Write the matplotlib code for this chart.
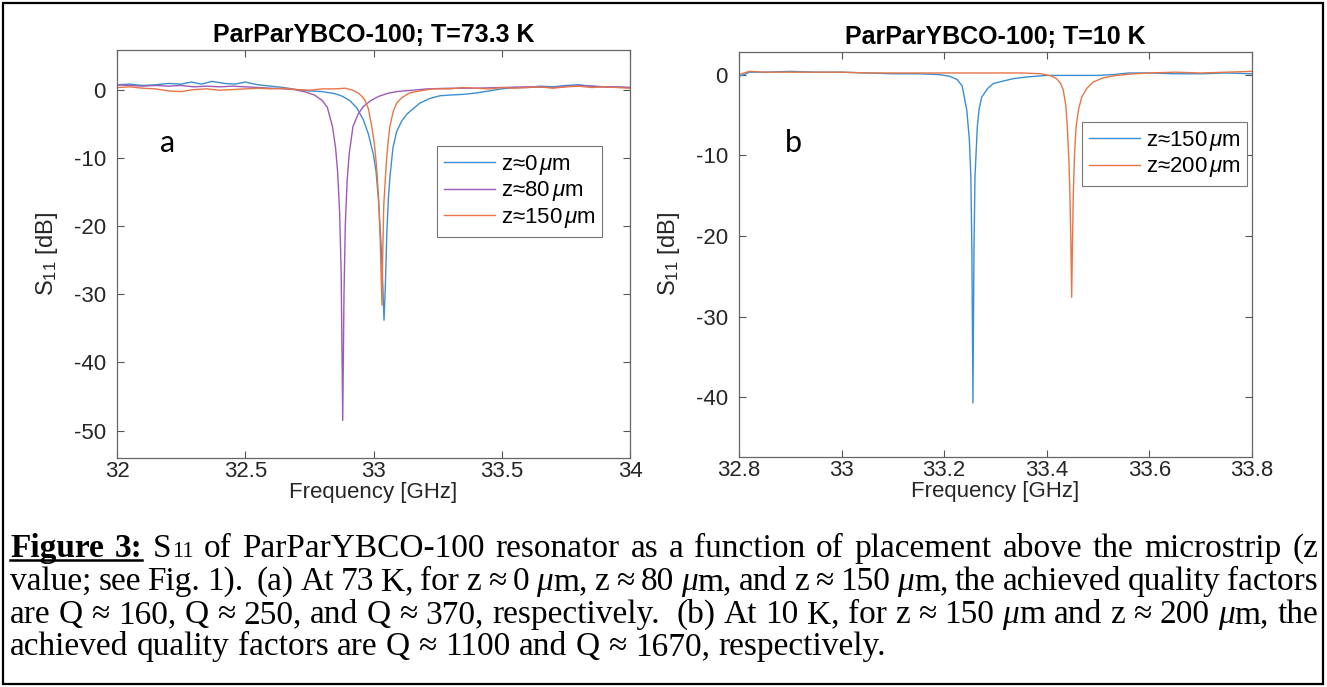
import matplotlib
matplotlib.use("Agg")
import matplotlib.pyplot as plt
from matplotlib.lines import Line2D
from matplotlib.patches import Rectangle

plt.rcParams['font.family'] = ['Liberation Sans', 'DejaVu Sans']
plt.rcParams['mathtext.fontset'] = 'custom'
plt.rcParams['mathtext.rm'] = 'Liberation Sans'
plt.rcParams['mathtext.it'] = 'Liberation Sans:italic'
plt.rcParams['mathtext.bf'] = 'Liberation Sans:bold'
plt.rcParams['axes.unicode_minus'] = False

# %% Data.
# (a) T = 73.3 K
freq_a0 = [32.00, 32.05, 32.10, 32.15, 32.20, 32.25, 32.29, 32.33, 32.37, 32.42,
           32.46, 32.50, 32.55, 32.60, 32.65, 32.70, 32.75, 32.80, 32.85, 32.88,
           32.91, 32.935, 32.96, 32.98, 33.00, 33.01, 33.02, 33.03, 33.036, 33.041,
           33.046, 33.052, 33.058, 33.064, 33.076, 33.09, 33.11, 33.13, 33.155, 33.18,
           33.22, 33.26, 33.30, 33.35, 33.40, 33.45, 33.50, 33.55, 33.60, 33.65,
           33.70, 33.75, 33.80, 33.85, 33.90, 33.95, 34.00]
s11_a0 = [0.7, 0.8, 0.6, 0.7, 0.9, 0.8, 1.1, 0.8, 1.2, 0.9,
          0.8, 1.1, 0.7, 0.5, 0.3, 0.0, -0.2, -0.3, -0.6, -1.0,
          -1.7, -2.7, -4.4, -6.5, -9.6, -12.0, -16.5, -23.0, -28.5, -33.8,
          -29.0, -21.0, -16.0, -12.8, -8.5, -6.2, -4.6, -3.6, -2.8, -2.0,
          -1.3, -0.9, -0.8, -0.7, -0.5, -0.2, 0.1, 0.3, 0.3, 0.5,
          0.4, 0.6, 0.7, 0.5, 0.4, 0.4, 0.3]

freq_a80 = [32.00, 32.05, 32.10, 32.15, 32.20, 32.25, 32.30, 32.35, 32.40, 32.45,
            32.50, 32.55, 32.60, 32.65, 32.69, 32.73, 32.77, 32.80, 32.82, 32.84,
            32.852, 32.860, 32.868, 32.874, 32.880, 32.885, 32.890, 32.897, 32.905, 32.92,
            32.94, 32.96, 32.99, 33.02, 33.06, 33.10, 33.15, 33.21, 33.30, 33.40,
            33.50, 33.60, 33.70, 33.80, 33.90, 34.00]
s11_a80 = [0.7, 0.6, 0.5, 0.6, 0.5, 0.6, 0.4, 0.5, 0.4, 0.5,
           0.4, 0.3, 0.2, 0.1, 0.0, -0.3, -0.8, -1.6, -2.6, -5.4,
           -8.5, -12.0, -18.0, -27.0, -48.5, -30.0, -20.0, -13.5, -9.5, -5.4,
           -3.6, -2.5, -1.6, -1.0, -0.5, -0.25, -0.1, 0.1, 0.2, 0.2,
           0.3, 0.4, 0.3, 0.6, 0.4, 0.3]

freq_a150 = [32.00, 32.05, 32.10, 32.15, 32.20, 32.25, 32.30, 32.35, 32.40, 32.45,
             32.50, 32.55, 32.60, 32.65, 32.70, 32.75, 32.80, 32.85, 32.89, 32.92,
             32.94, 32.955, 32.967, 32.98, 32.993, 33.003, 33.012, 33.020, 33.026, 33.033,
             33.036, 33.040, 33.049, 33.056, 33.064, 33.077, 33.09, 33.11, 33.14, 33.18,
             33.23, 33.30, 33.35, 33.40, 33.45, 33.50, 33.55, 33.60, 33.65, 33.70,
             33.75, 33.80, 33.85, 33.90, 33.95, 34.00]
s11_a150 = [0.3, 0.4, 0.2, 0.1, -0.2, -0.3, 0.0, 0.1, -0.1, 0.0,
            0.1, 0.2, 0.1, 0.2, 0.0, -0.1, 0.1, 0.1, 0.2, -0.1,
            -0.5, -1.0, -1.6, -2.8, -5.4, -7.8, -11.3, -16.0, -22.0, -31.6,
            -24.0, -17.0, -11.3, -8.0, -5.4, -3.2, -2.0, -1.2, -0.5, -0.2,
            0.1, 0.1, 0.3, 0.2, 0.1, 0.3, 0.2, 0.3, 0.4, 0.2,
            0.4, 0.5, 0.3, 0.4, 0.3, 0.2]

# (b) T = 10 K
freq_b150 = [32.80, 32.81, 32.82, 32.85, 32.90, 32.95, 33.00, 33.05, 33.10, 33.15,
             33.19, 33.21, 33.225, 33.235, 33.244, 33.249, 33.252, 33.254, 33.256, 33.258,
             33.260, 33.2645, 33.268, 33.273, 33.285, 33.296, 33.315, 33.335, 33.36, 33.40,
             33.45, 33.50, 33.53, 33.56, 33.60, 33.65, 33.70, 33.75, 33.80]
s11_b150 = [-0.2, 0.0, 0.3, 0.3, 0.4, 0.3, 0.3, 0.2, 0.1, 0.1,
            0.0, -0.2, -0.6, -1.4, -4.4, -8.0, -12.7, -22.0, -40.7, -22.0,
            -12.7, -6.5, -4.3, -2.8, -1.7, -1.1, -0.8, -0.5, -0.3, -0.1,
            -0.1, -0.1, 0.0, 0.2, 0.2, 0.1, 0.1, 0.2, 0.1]

freq_b200 = [32.80, 32.82, 32.85, 32.90, 32.95, 33.00, 33.05, 33.10, 33.15, 33.20,
             33.25, 33.30, 33.35, 33.39, 33.41, 33.419, 33.427, 33.432, 33.437, 33.440,
             33.443, 33.445, 33.447, 33.4485, 33.450, 33.4517, 33.454, 33.457, 33.462, 33.468,
             33.478, 33.491, 33.51, 33.536, 33.57, 33.60, 33.65, 33.70, 33.75, 33.80]
s11_b200 = [0.0, 0.4, 0.3, 0.3, 0.3, 0.3, 0.2, 0.2, 0.2, 0.2,
            0.2, 0.2, 0.2, 0.1, -0.2, -0.5, -1.1, -1.9, -3.8, -6.5,
            -10.5, -14.7, -21.0, -27.6, -21.0, -14.7, -10.0, -6.5, -4.3, -2.8,
            -1.7, -0.9, -0.4, -0.1, 0.1, 0.2, 0.3, 0.2, 0.3, 0.4]

labels_a = ['z≈0$\\,\\mu$m', 'z≈80$\\,\\mu$m', 'z≈150$\\,\\mu$m']
labels_b = ['z≈150$\\,\\mu$m', 'z≈200$\\,\\mu$m']
xticks_a = [32, 32.5, 33, 33.5, 34]
yticks_a = [0, -10, -20, -30, -40, -50]
xticks_b = [32.8, 33, 33.2, 33.4, 33.6, 33.8]
yticks_b = [0, -10, -20, -30, -40]

caption_lines = [
    "Figure 3: S11 of ParParYBCO-100 resonator as a function of placement above the microstrip (z",
    "value; see Fig. 1).  (a) At 73 K, for z ≈ 0 μm, z ≈ 80 μm, and z ≈ 150 μm, the achieved quality factors",
    "are Q ≈ 160, Q ≈ 250, and Q ≈ 370, respectively.  (b) At 10 K, for z ≈ 150 μm and z ≈ 200 μm, the",
    "achieved quality factors are Q ≈ 1100 and Q ≈ 1670, respectively.",
]

BLUE = '#3b8fd0'
PURPLE = '#9c5bb5'
ORANGE = '#e87548'

W, H = 1327, 687
fig = plt.figure(figsize=(W / 100, H / 100), dpi=100)


def style_axes(ax, xt, yt):
    ax.set_xticks(xt)
    ax.set_yticks(yt)
    ax.set_xticklabels([f'{v:g}' for v in xt])
    ax.tick_params(direction='in', top=True, right=True, length=5, width=0.8,
                   colors='#555555', labelcolor='#262626', labelsize=16)
    ax.tick_params(axis='x', pad=2)
    ax.tick_params(axis='y', pad=8)
    for s in ax.spines.values():
        s.set_color('#666666')
        s.set_linewidth(0.9)


def style_legend(leg):
    leg.get_frame().set_edgecolor('#777777')
    leg.get_frame().set_linewidth(0.8)


leg_kw = dict(bbox_transform=fig.transFigure, fontsize=16, handlelength=2.3,
              handletextpad=0.25, labelspacing=0.12, borderpad=0.3,
              fancybox=False, framealpha=1, borderaxespad=0, loc='upper right')

# %% Panel a
ax1 = fig.add_axes([117 / W, 1 - 458 / H, 513 / W, 408 / H])
ax1.plot(freq_a0, s11_a0, color=BLUE, lw=1.0, label=labels_a[0])
ax1.plot(freq_a80, s11_a80, color=PURPLE, lw=1.0, label=labels_a[1])
ax1.plot(freq_a150, s11_a150, color=ORANGE, lw=1.0, label=labels_a[2])
ax1.set_xlim(32, 34)
ax1.set_ylim(-54, 5.8)
style_axes(ax1, xticks_a, yticks_a)
ax1.set_title('ParParYBCO-100; T=73.3 K', fontsize=18, fontweight='bold', pad=6)
ax1.set_xlabel('Frequency [GHz]', fontsize=16, color='#262626', labelpad=0)
ax1.set_ylabel('S$_{11}$ [dB]', fontsize=17, color='#262626', labelpad=10)
ax1.text(168 / W, 1 - 143 / H, 'a', transform=fig.transFigure, fontsize=22,
         family='Lato', ha='center', va='center')
style_legend(ax1.legend(bbox_to_anchor=(602 / W, 1 - 146 / H), **leg_kw))

# %% Panel b
ax2 = fig.add_axes([739 / W, 1 - 457 / H, 513 / W, 405 / H])
ax2.plot(freq_b150, s11_b150, color=BLUE, lw=1.0, label=labels_b[0])
ax2.plot(freq_b200, s11_b200, color=ORANGE, lw=1.0, label=labels_b[1])
ax2.set_xlim(32.8, 33.8)
ax2.set_ylim(-47.4, 2.8)
style_axes(ax2, xticks_b, yticks_b)
ax2.set_title('ParParYBCO-100; T=10 K', fontsize=18, fontweight='bold', pad=6)
ax2.set_xlabel('Frequency [GHz]', fontsize=16, color='#262626', labelpad=0)
ax2.set_ylabel('S$_{11}$ [dB]', fontsize=17, color='#262626', labelpad=10)
ax2.text(793 / W, 1 - 143 / H, 'b', transform=fig.transFigure, fontsize=22,
         family='Lato', ha='center', va='center')
style_legend(ax2.legend(bbox_to_anchor=(1247 / W, 1 - 122 / H), **leg_kw))

# %% Caption, justified word by word.
fs = 24
serif = 'Liberation Serif'
renderer = fig.canvas.get_renderer()


def segments(word):
    if word in ('Figure', '3:'):
        return [(word, dict(fontsize=fs, fontweight='bold'))]
    if word == 'S11':
        return [('S', dict(fontsize=fs)), ('11', dict(fontsize=fs * 0.68))]
    if word.startswith('μ'):
        return [('μ', dict(fontsize=fs, fontstyle='italic')), (word[1:], dict(fontsize=fs))]
    return [(word, dict(fontsize=fs))]


def text_width(s, props):
    if not s:
        return 0.0
    t = fig.text(0, 0, s, family=serif, **props)
    w = t.get_window_extent(renderer).width
    t.remove()
    return w


left, right = 10, 1318
baselines = [557, 590, 623, 655]
space_w = text_width('a a', dict(fontsize=fs)) - text_width('aa', dict(fontsize=fs))
for li, (line, base) in enumerate(zip(caption_lines, baselines)):
    words = line.split(' ')
    segs = [segments(w) for w in words]
    widths = [sum(text_width(s, p) for s, p in sg) for sg in segs]
    if li < len(caption_lines) - 1:
        gap = (right - left - sum(widths)) / (len(words) - 1)
    else:
        gap = space_w
    x = left
    for wi, (sg, ww) in enumerate(zip(segs, widths)):
        for s, p in sg:
            fig.text(x / W, 1 - base / H, s, family=serif, va='baseline', ha='left', **p)
            x += text_width(s, p)
        if li == 0 and wi == 1:
            fig.add_artist(Line2D([left / W, x / W], [1 - (base + 3) / H] * 2,
                                  color='black', lw=1.8))
        x += gap

# Frame round the whole figure.
fig.add_artist(Rectangle((3 / W, 3 / H), 1 - 7 / W, 1 - 6 / H, transform=fig.transFigure,
                         fill=False, edgecolor='black', lw=1.6))

fig.savefig('out.png', dpi=100)
